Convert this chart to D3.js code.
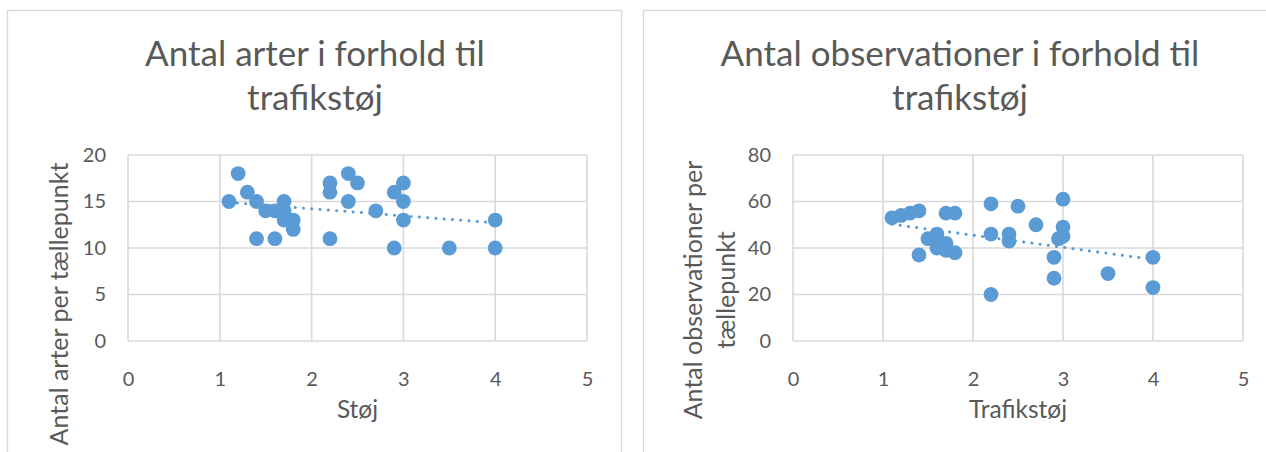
<!DOCTYPE html>
<html><head><meta charset="utf-8">
<script src="https://cdn.jsdelivr.net/npm/d3@7"></script>
<style>
html,body{margin:0;padding:0;background:#fff;}
svg{display:block;font-family:Lato, "Noto Sans", sans-serif;}
</style></head>
<body>
<svg id="c" width="1266" height="452"></svg>
<script>
// Chart 1: Antal arter vs Støj
const artStoj = [1.1,1.2,1.3,1.4,1.5,1.6,1.7,1.7,1.7,1.8,1.8,1.4,1.6,2.2,2.2,2.2,2.4,2.5,2.4,2.7,2.9,3.0,3.0,3.0,2.9,3.5,4.0,4.0];
const artAntal = [15,18,16,15,14,14,15,14,13,13,12,11,11,17,16,11,18,17,15,14,16,17,15,13,10,10,13,10];
// Chart 2: Antal observationer vs Trafikstøj
const obsStoj = [1.1,1.2,1.3,1.4,1.7,1.8,2.2,2.5,3.0,2.7,3.0,2.2,2.4,2.4,3.0,2.95,2.9,2.9,2.2,3.5,4.0,4.0,1.4,1.5,1.6,1.6,1.6,1.7,1.7,1.8];
const obsAntal = [53,54,55,56,55,55,59,58,61,50,49,46,46,43,45,44,36,27,20,29,36,23,37,44,46,42,40,42,39,38];

const xTicks = [0,1,2,3,4,5];
const yTicks1 = [0,5,10,15,20];
const yTicks2 = [0,20,40,60,80];

const titles1 = ["Antal arter i forhold til","trafikstøj"];
const titles2 = ["Antal observationer i forhold til","trafikstøj"];
const xTitle1 = "Støj", xTitle2 = "Trafikstøj";
const yTitle1 = ["Antal arter per tællepunkt"];
const yTitle2 = ["Antal observationer per","tællepunkt"];

const svg = d3.select("#c");
const TEXT = "#595959", GRID = "#D9D9D9", DOT = "#5B9BD5";

// chart frames
svg.append("rect").attr("x",7.5).attr("y",10.5).attr("width",614).attr("height",460)
  .attr("fill","none").attr("stroke",GRID).attr("stroke-width",1.3);
svg.append("rect").attr("x",643.5).attr("y",10.5).attr("width",700).attr("height",460)
  .attr("fill","none").attr("stroke",GRID).attr("stroke-width",1.3);

function chart(cfg){
  const x = d3.scaleLinear().domain([0,5]).range(cfg.xr);
  const y = d3.scaleLinear().domain([0,cfg.ymax]).range([341,155]);
  const g = svg.append("g");
  // gridlines
  g.selectAll(".vg").data(xTicks).enter().append("line")
    .attr("x1",d=>x(d)).attr("x2",d=>x(d)).attr("y1",y(0)).attr("y2",y(cfg.ymax))
    .attr("stroke",GRID).attr("stroke-width",1.6);
  g.selectAll(".hg").data(cfg.yTicks).enter().append("line")
    .attr("x1",x(0)).attr("x2",x(5)).attr("y1",d=>y(d)).attr("y2",d=>y(d))
    .attr("stroke",GRID).attr("stroke-width",1.6);
  // axes labels
  const xa = g.append("g").attr("transform",`translate(0,${y(0)})`)
    .call(d3.axisBottom(x).tickValues(xTicks).tickSize(0).tickPadding(31).tickFormat(d3.format("d")));
  xa.select(".domain").remove();
  xa.selectAll("text").attr("fill",TEXT).attr("font-size",20).attr("font-family","Lato");
  const ya = g.append("g").attr("transform",`translate(${x(0)},0)`)
    .call(d3.axisLeft(y).tickValues(cfg.yTicks).tickSize(0).tickPadding(22).tickFormat(d3.format("d")));
  ya.select(".domain").remove();
  ya.selectAll("text").attr("fill",TEXT).attr("font-size",20).attr("font-family","Lato");
  // trendline (least squares)
  const xs = cfg.xs, ys = cfg.ys;
  const mx = d3.mean(xs), my = d3.mean(ys);
  const b = d3.sum(xs.map((v,i)=>(v-mx)*(ys[i]-my))) / d3.sum(xs.map(v=>(v-mx)*(v-mx)));
  const a = my - b*mx;
  const ext = d3.extent(xs);
  g.append("line").attr("x1",x(ext[0])).attr("y1",y(a+b*ext[0]))
    .attr("x2",x(ext[1])).attr("y2",y(a+b*ext[1]))
    .attr("stroke",DOT).attr("stroke-width",3).attr("stroke-linecap","round")
    .attr("stroke-dasharray","0.1,8.2");
  // points
  g.selectAll("circle").data(xs.map((v,i)=>[v,ys[i]])).enter().append("circle")
    .attr("cx",d=>x(d[0])).attr("cy",d=>y(d[1])).attr("r",7.4).attr("fill",DOT);
  // title
  g.selectAll(".t").data(cfg.titles).enter().append("text")
    .attr("x",cfg.tcx).attr("y",(d,i)=>66+i*44).attr("text-anchor","middle")
    .attr("font-size",35).attr("font-weight",400).attr("fill",TEXT).text(d=>d);
  // x title
  g.append("text").attr("x",(cfg.xr[0]+cfg.xr[1])/2).attr("y",418).attr("text-anchor","middle")
    .attr("font-size",24.5).attr("fill",TEXT).text(cfg.xTitle);
  // y title
  cfg.yTitle.forEach((t,i)=>{
    g.append("text").attr("transform",`translate(${cfg.ytx[i]},${cfg.ytcy}) rotate(-90)`)
      .attr("text-anchor","middle").attr("font-size",25).attr("fill",TEXT).text(t);
  });
}

chart({xr:[128,587], ymax:20, yTicks:yTicks1, xs:artStoj, ys:artAntal, titles:titles1, tcx:315,
  xTitle:xTitle1, yTitle:yTitle1, ytx:[68], ytcy:304});
chart({xr:[793,1243], ymax:80, yTicks:yTicks2, xs:obsStoj, ys:obsAntal, titles:titles2, tcx:960,
  xTitle:xTitle2, yTitle:yTitle2, ytx:[702,735], ytcy:290});
</script>
</body></html>
